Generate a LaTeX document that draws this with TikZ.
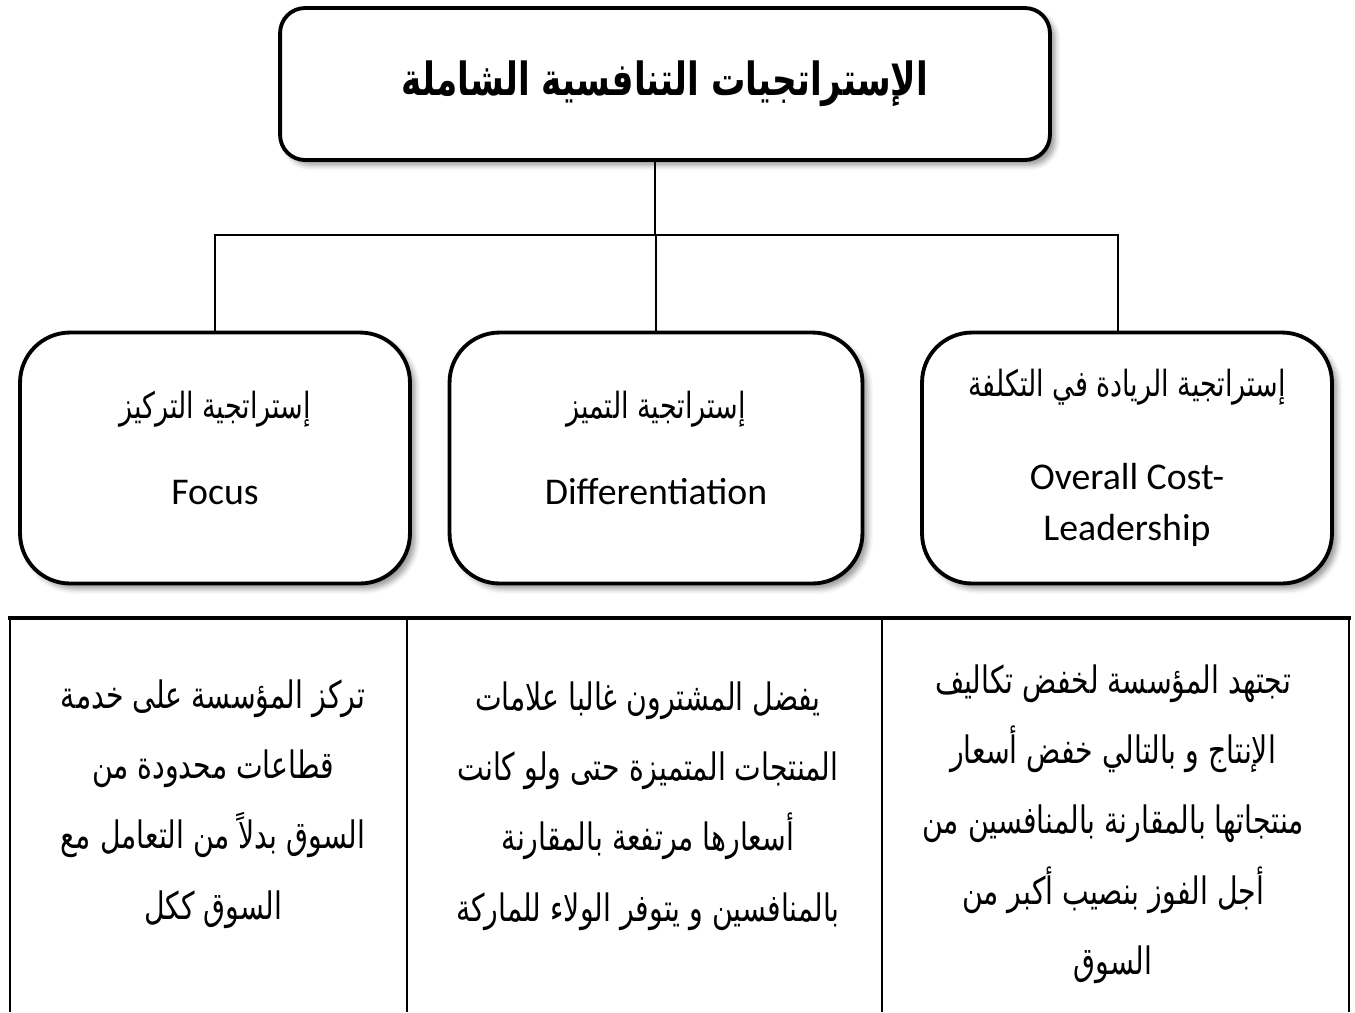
\documentclass[tikz,border=0pt]{standalone}
\usepackage{fontspec}
\setmainfont{Carlito}
\newfontfamily\arabicfont[Script=Arabic, FakeStretch=0.75]{DejaVu Sans}
\TeXXeTstate=1
\usetikzlibrary{positioning, shadows.blur}

% Arabic text, right to left
\newcommand{\ar}[1]{{\arabicfont\beginR #1\endR}}

\begin{document}
\begin{tikzpicture}[x=0.02cm, y=-0.02cm,
    titlebox/.style={draw, line width=2.2pt, rounded corners=0.5cm, fill=white,
        minimum width=15.4cm, minimum height=3.04cm,
        font=\arabicfont\bfseries\fontsize{26}{30}\selectfont,
        blur shadow={shadow xshift=3pt, shadow yshift=-3pt, shadow blur radius=3pt}},
    stratbox/.style={draw, line width=2.2pt, rounded corners=1cm, fill=white,
        minimum width=8.2cm, minimum height=5.02cm, align=center,
        font=\fontsize{21.5}{25}\selectfont,
        blur shadow={shadow xshift=3pt, shadow yshift=-3pt, shadow blur radius=3pt}},
    celltext/.style={align=center, font=\arabicfont\fontsize{21.5}{40}\selectfont},
    link/.style={line width=1.3pt},
    tabletop/.style={line width=2.8pt},
    tablerule/.style={line width=1.6pt}]
    \useasboundingbox (0,0) rectangle (1355,1012);

    % ==========================================
    % TITOLO
    % ==========================================
    \node[titlebox] (title) at (665,84) {\ar{الإستراتجيات التنافسية الشاملة}};

    % ==========================================
    % LE TRE STRATEGIE
    % ==========================================
    \node[stratbox, minimum width=7.8cm, text depth=0.4cm] (focus) at (215,458)
        {{\fontsize{20.5}{25}\selectfont\ar{إستراتجية التركيز}}\\[24pt] Focus};
    \node[stratbox, minimum width=8.26cm, text depth=0.4cm] (diff) at (656,458)
        {{\fontsize{20.5}{25}\selectfont\ar{إستراتجية التميز}}\\[24pt] Differentiation};
    \node[stratbox] (cost) at (1127,458)
        {{\fontsize{20.5}{25}\selectfont\ar{إستراتجية الريادة في التكلفة}}\\[28pt] Overall Cost-\\[4pt] Leadership};

    % ==========================================
    % COLLEGAMENTI
    % ==========================================
    \coordinate (bar) at (655,235);
    \draw[link] (bar |- title.south) -- (bar);
    \draw[link] (focus.north) |- (bar) -| ([xshift=-0.18cm]cost.north);
    \draw[link] (diff.north) -- (diff.north |- bar);

    % ==========================================
    % TABELLA DELLE DESCRIZIONI
    % ==========================================
    \draw[tabletop] (8,618) -- (1351,618);
    \foreach \x in {10,407,882,1349}
        \draw[tablerule] (\x,618) -- (\x,1012);

    \node[celltext] (focustxt) at (213,804) {%
        \ar{تركز المؤسسة على خدمة}\\
        \ar{قطاعات محدودة من}\\
        \ar{السوق بدلاً من التعامل مع}\\
        \ar{السوق ككل}};
    \node[celltext] (difftxt) at (648,806) {%
        \ar{يفضل المشترون غالبا علامات}\\
        \ar{المنتجات المتميزة حتى ولو كانت}\\
        \ar{أسعارها مرتفعة بالمقارنة}\\
        \ar{بالمنافسين و يتوفر الولاء للماركة}};
    \node[celltext] (costtxt) at (1113,824) {%
        \ar{تجتهد المؤسسة لخفض تكاليف}\\
        \ar{الإنتاج و بالتالي خفض أسعار}\\
        \ar{منتجاتها بالمقارنة بالمنافسين من}\\
        \ar{أجل الفوز بنصيب أكبر من}\\
        \ar{السوق}};

\end{tikzpicture}
\end{document}
